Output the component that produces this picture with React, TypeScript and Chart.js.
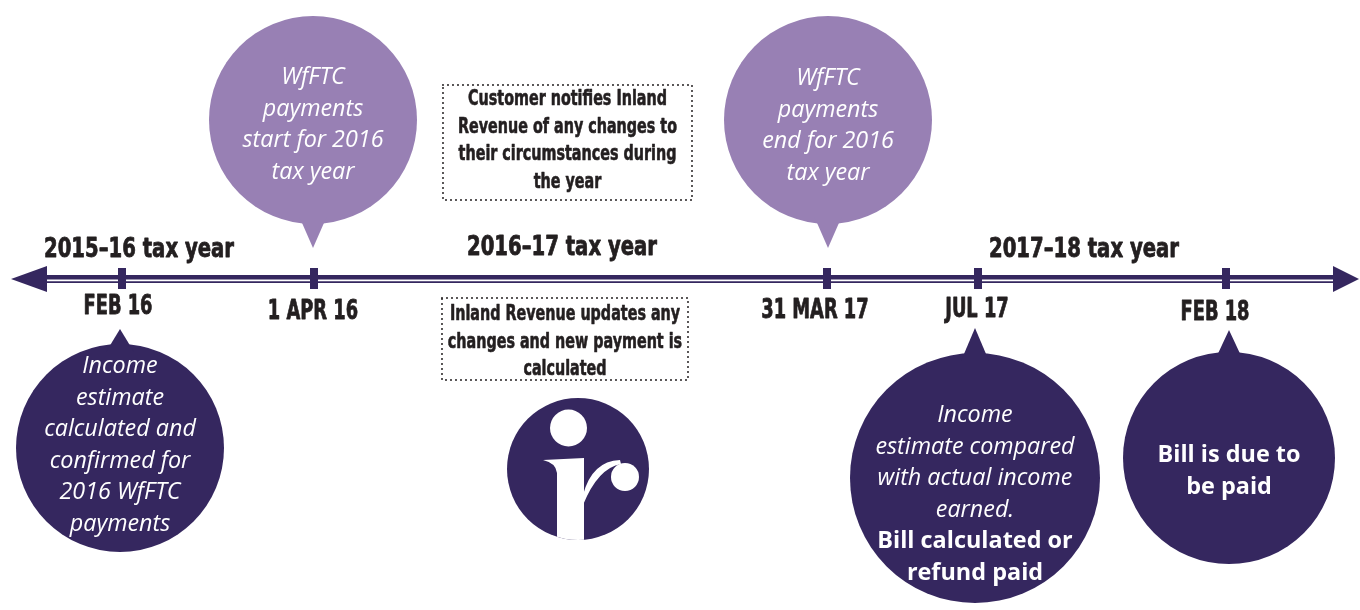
import React, { useEffect, useRef } from "react";
import { Chart, registerables } from "chart.js";

Chart.register(...registerables);

// ---------------- data ----------------
const milestoneLabels = ["FEB 16", "1 APR 16", "31 MAR 17", "JUL 17", "FEB 18"];
const milestonePos = [122, 314, 827, 978, 1226];
const milestoneLabelPos = [118, 313, 815, 977, 1215];
const milestoneLabelBase = [314, 319, 318, 317, 320];

const taxYearLabels = ["2015–16 tax year", "2016–17 tax year", "2017–18 tax year"];
const taxYearPos = [139, 562, 1084];
const taxYearBase = [257, 255, 257];

const calloutPos = [313, 828, 120, 975, 1229];
const calloutLevel = [120, 120, 448, 478, 458];
const calloutSize = [104, 104, 104, 125, 106];
const calloutTip = [248, 248, 329, 328, 330];
const calloutShade = ["light", "light", "dark", "dark", "dark"];
const calloutLines = [
  ["WfFTC", "payments", "start for 2016", "tax year"],
  ["WfFTC", "payments", "end for 2016", "tax year"],
  ["Income", "estimate", "calculated and", "confirmed for", "2016 WfFTC", "payments"],
  ["Income", "estimate compared", "with actual income", "earned.", "Bill calculated or", "refund paid"],
  ["Bill is due to", "be paid"],
];
const calloutBoldLines = [0, 0, 0, 2, 2];
const calloutFirstBase = [84, 85, 373, 422, 462];

const noteLines = [
  ["Customer notifies Inland", "Revenue of any changes to", "their circumstances during", "the year"],
  ["Inland Revenue updates any", "changes and new payment is", "calculated"],
];
const noteBox = [
  [443, 85, 692, 200],
  [442, 298, 688, 380],
];
const noteFirstBase = [105, 320];

// ---------------- styles ----------------
const DARK = "#35275f";
const LIGHT = "#9880b4";
const INK = "#231f20";
const COND = '"Liberation Sans Narrow", "DejaVu Sans Condensed", "Arial Narrow", sans-serif';
const HUM = '"Open Sans", "Noto Sans", sans-serif';

function fitScale(ctx: CanvasRenderingContext2D, font: string, ref: string, target: number) {
  ctx.font = font;
  const w = ctx.measureText(ref).width;
  return w > 0 ? target / w : 1;
}

function drawText(ctx: CanvasRenderingContext2D, text: string, x: number, y: number, sx: number, heavy = 0) {
  ctx.save();
  ctx.translate(x, y);
  ctx.scale(sx, 1);
  ctx.fillText(text, 0, 0);
  if (heavy > 0) {
    ctx.lineWidth = heavy;
    ctx.lineJoin = "round";
    ctx.strokeStyle = ctx.fillStyle as string;
    ctx.strokeText(text, 0, 0);
  }
  ctx.restore();
}

const overlay = {
  id: "overlay",
  afterDatasetsDraw(chart: any) {
    const ctx: CanvasRenderingContext2D = chart.ctx;
    const xs = chart.scales.x;
    const ys = chart.scales.y;
    const X = (v: number) => xs.getPixelForValue(v);
    const Y = (v: number) => ys.getPixelForValue(v);
    ctx.save();

    // callout pointers
    calloutPos.forEach((p, i) => {
      const cx = X(p);
      const cy = Y(calloutLevel[i]);
      const tip = Y(calloutTip[i]);
      const r = calloutSize[i];
      const dir = tip > cy ? 1 : -1;
      const baseY = cy + dir * (r - 8);
      ctx.fillStyle = calloutShade[i] === "light" ? LIGHT : DARK;
      ctx.beginPath();
      ctx.moveTo(cx - 14, baseY);
      ctx.lineTo(cx + 14, baseY);
      ctx.lineTo(cx, tip);
      ctx.closePath();
      ctx.fill();
    });

    // arrow heads
    const ty = Y(279);
    ctx.fillStyle = DARK;
    ctx.beginPath();
    ctx.moveTo(X(11), ty);
    ctx.lineTo(X(47), Y(266));
    ctx.lineTo(X(47), Y(292));
    ctx.closePath();
    ctx.fill();
    ctx.beginPath();
    ctx.moveTo(X(1359), ty);
    ctx.lineTo(X(1333), Y(266));
    ctx.lineTo(X(1333), Y(292));
    ctx.closePath();
    ctx.fill();

    // milestone ticks
    milestonePos.forEach((p) => {
      ctx.fillRect(X(p) - 4, Y(268), 8, Y(289) - Y(268));
    });

    // bold condensed labels
    ctx.fillStyle = INK;
    ctx.textAlign = "center";
    ctx.textBaseline = "alphabetic";
    const fCond = `bold 27px ${COND}`;
    const sCond = fitScale(ctx, fCond, "2015–16 tax year", 190);
    ctx.font = fCond;
    taxYearLabels.forEach((t, i) => drawText(ctx, t, X(taxYearPos[i]), Y(taxYearBase[i]), sCond, 0.8));
    const fDate = `bold 27px ${COND}`;
    const sDate = fitScale(ctx, fDate, "FEB 16", 69);
    ctx.font = fDate;
    milestoneLabels.forEach((t, i) =>
      drawText(ctx, t, X(milestoneLabelPos[i]), Y(milestoneLabelBase[i]), sDate, 0.8)
    );

    // note boxes
    const fNote = `bold 21px ${COND}`;
    const sNote = fitScale(ctx, fNote, "Revenue of any changes to", 219);
    noteBox.forEach((b, i) => {
      ctx.save();
      ctx.strokeStyle = INK;
      ctx.lineWidth = 2;
      ctx.lineCap = "round";
      ctx.setLineDash([0, 5]);
      ctx.strokeRect(X(b[0]), Y(b[1]), X(b[2]) - X(b[0]), Y(b[3]) - Y(b[1]));
      ctx.restore();
      ctx.font = fNote;
      ctx.fillStyle = INK;
      const cx = (X(b[0]) + X(b[2])) / 2;
      noteLines[i].forEach((t, k) => drawText(ctx, t, cx, Y(noteFirstBase[i] + k * 27.5), sNote, 0.6));
    });

    // callout texts
    const fIt = `italic 24px ${HUM}`;
    const sIt = fitScale(ctx, fIt, "start for 2016", 141);
    const fBold = `bold 23px ${HUM}`;
    const sBold = fitScale(ctx, fBold, "Bill is due to", 143);
    ctx.fillStyle = "#ffffff";
    calloutLines.forEach((lines, i) => {
      const nb = calloutBoldLines[i];
      lines.forEach((t, k) => {
        const bold = k >= lines.length - nb;
        ctx.font = bold ? fBold : fIt;
        drawText(ctx, t, X(calloutPos[i]), Y(calloutFirstBase[i] + k * 31.6), bold ? sBold : sIt);
      });
    });

    // Inland Revenue logo
    const lx = X(578);
    const ly = Y(469);
    ctx.save();
    ctx.fillStyle = DARK;
    ctx.beginPath();
    ctx.arc(lx, ly, 71, 0, Math.PI * 2);
    ctx.fill();
    ctx.clip();
    ctx.fillStyle = "#ffffff";
    ctx.beginPath();
    ctx.arc(lx - 9.5, ly - 41, 18.5, 0, Math.PI * 2);
    ctx.fill();
    ctx.beginPath();
    ctx.moveTo(lx - 35, ly - 9);
    ctx.lineTo(lx + 6, ly - 11);
    ctx.lineTo(lx + 6, ly + 80);
    ctx.lineTo(lx - 21, ly + 80);
    ctx.lineTo(lx - 21, ly + 4);
    ctx.quadraticCurveTo(lx - 22, ly - 6, lx - 35, ly - 9);
    ctx.closePath();
    ctx.fill();
    ctx.beginPath();
    ctx.moveTo(lx + 5, ly + 26);
    ctx.quadraticCurveTo(lx + 14, ly - 8, lx + 42, ly - 9);
    ctx.lineTo(lx + 43, ly - 5);
    ctx.quadraticCurveTo(lx + 20, ly - 1, lx + 5, ly + 36);
    ctx.closePath();
    ctx.fill();
    ctx.beginPath();
    ctx.arc(lx + 47, ly + 8, 14, 0, Math.PI * 2);
    ctx.fill();
    ctx.restore();

    ctx.restore();
  },
};

export default function App() {
  const ref = useRef<HTMLCanvasElement | null>(null);
  useEffect(() => {
    if (!ref.current) return;
    const chart = new Chart(ref.current, {
      type: "bubble",
      data: {
        datasets: [
          {
            type: "line",
            data: [{ x: 47, y: 277.2 }, { x: 1333, y: 277.2 }],
            borderColor: DARK,
            borderWidth: 4.6,
            pointRadius: 0,
          } as any,
          {
            type: "line",
            data: [{ x: 30, y: 282.2 }, { x: 1345, y: 282.2 }],
            borderColor: DARK,
            borderWidth: 1.8,
            pointRadius: 0,
          } as any,
          {
            type: "bubble",
            data: calloutPos.map((x, i) => ({ x, y: calloutLevel[i], r: calloutSize[i] })),
            backgroundColor: calloutShade.map((s) => (s === "light" ? LIGHT : DARK)),
            borderWidth: 0,
            hoverRadius: 0,
            clip: false,
          } as any,
        ],
      },
      options: {
        animation: false,
        responsive: true,
        maintainAspectRatio: false,
        events: [],
        layout: { padding: 0, autoPadding: false },
        plugins: { legend: { display: false }, tooltip: { enabled: false } },
        scales: {
          x: { type: "linear", min: 0, max: 1360, display: false },
          y: { type: "linear", min: 0, max: 610, reverse: true, display: false },
        },
      } as any,
      plugins: [overlay],
    });
    return () => chart.destroy();
  }, []);
  return (
    <div style={{ position: "fixed", left: 0, top: 0, width: 1360, height: 610, background: "#ffffff" }}>
      <canvas ref={ref} />
    </div>
  );
}
